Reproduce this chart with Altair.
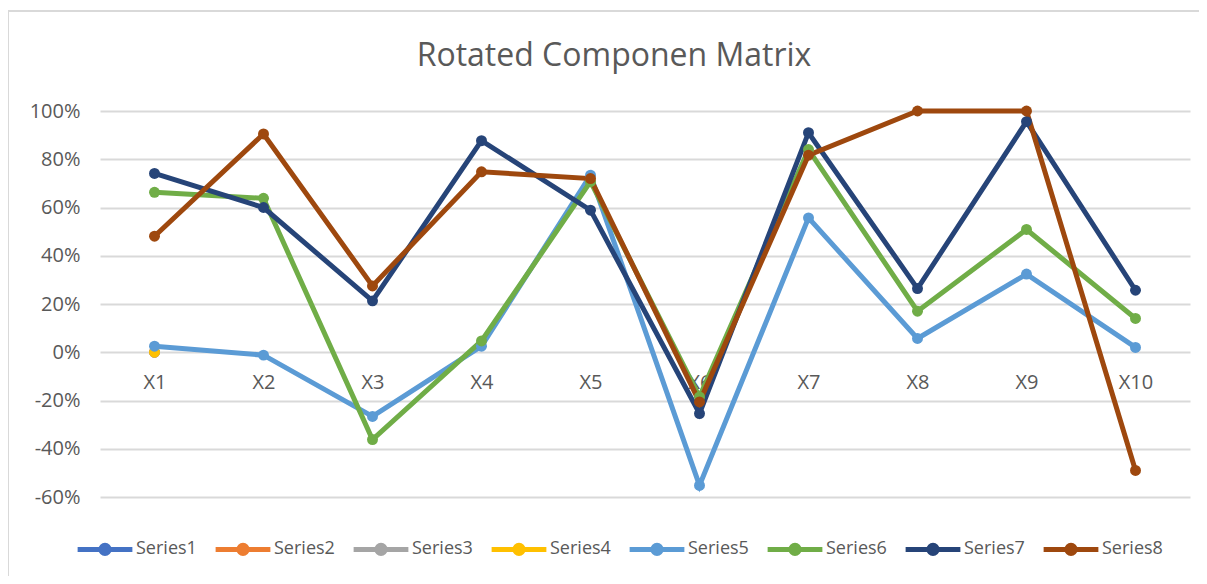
import altair as alt
import pandas as pd

categories = ["X1", "X2", "X3", "X4", "X5", "X6", "X7", "X8", "X9", "X10"]
series_names = ["Series1", "Series2", "Series3", "Series4",
                "Series5", "Series6", "Series7", "Series8"]
colors = ["#4472C4", "#ED7D31", "#A5A5A5", "#FFC000",
          "#5B9BD5", "#70AD47", "#264478", "#9E480E"]

# Series1-4 only have a value at X1
series1 = [0.0]
series2 = [0.0]
series3 = [0.0]
series4 = [0.0]
series5 = [0.025, -0.012, -0.266, 0.025, 0.734, -0.552, 0.557, 0.057, 0.324, 0.020]
series6 = [0.663, 0.638, -0.362, 0.047, 0.707, -0.185, 0.840, 0.170, 0.509, 0.140]
series7 = [0.741, 0.600, 0.213, 0.877, 0.589, -0.254, 0.910, 0.264, 0.956, 0.257]
series8 = [0.481, 0.905, 0.275, 0.748, 0.720, -0.206, 0.817, 1.000, 1.000, -0.490]

y_ticks = [-0.6, -0.4, -0.2, 0.0, 0.2, 0.4, 0.6, 0.8, 1.0]
title_text = "Rotated Componen Matrix"

all_series = [series1, series2, series3, series4, series5, series6, series7, series8]
rows = []
for name, vals in zip(series_names, all_series):
    for i, v in enumerate(vals):
        rows.append({"cat": categories[i], "series": name, "value": v, "ord": i})
df = pd.DataFrame(rows)

FONT = "Open Sans"
GREY = "#595959"

legend_path = ("M-1,0H1M0.15,0A0.15,0.15 0 1,1 -0.15,0"
               "A0.15,0.15 0 1,1 0.15,0Z")

color_enc = alt.Color(
    "series:N",
    scale=alt.Scale(domain=series_names, range=colors),
    legend=alt.Legend(
        title=None, orient="none", direction="horizontal", columns=8,
        legendX=-25, legendY=408,
        symbolType=legend_path, symbolSize=3000, symbolStrokeWidth=5,
        labelFont=FONT, labelFontSize=18, labelColor=GREY, labelOffset=1,
        columnPadding=8,
    ),
)

x_enc = alt.X(
    "cat:N", sort=categories, title=None,
    scale=alt.Scale(type="point", padding=0.5),
    axis=alt.Axis(orient="bottom", offset=-145, domain=False, ticks=False,
                  labelAngle=0, labelFont=FONT, labelFontSize=20,
                  labelColor=GREY, labelPadding=20, grid=False),
)
y_enc = alt.Y(
    "value:Q", title=None,
    scale=alt.Scale(domain=[-0.6, 1.0], nice=False, zero=False),
    axis=alt.Axis(values=y_ticks, domain=False, ticks=False,
                  labelExpr="(datum.value < 0 ? '-' : '') + format(abs(datum.value), '.0%')",
                  labelFont=FONT, labelFontSize=20, labelColor=GREY,
                  labelPadding=20, grid=True, gridColor="#D9D9D9",
                  gridWidth=2),
)

lines = alt.Chart(df).mark_line(strokeWidth=5).encode(
    x=x_enc, y=y_enc, color=color_enc, order="ord:Q"
)
points = alt.Chart(df).mark_point(filled=True, size=120, opacity=1).encode(
    x=alt.X("cat:N", sort=categories),
    y="value:Q",
    color=alt.Color("series:N"),
)

one = alt.Data(values=[{}])
border_top = alt.Chart(one).mark_rule(stroke="#D9D9D9", strokeWidth=2).encode(
    x=alt.value(-93), x2=alt.value(1110), y=alt.value(-100)
)
border_left = alt.Chart(one).mark_rule(stroke="#D9D9D9", strokeWidth=2).encode(
    x=alt.value(-92), y=alt.value(-101), y2=alt.value(480)
)

title = alt.Chart(alt.Data(values=[{"t": title_text}])).mark_text(
    font=FONT, fontSize=32, color=GREY, align="center", baseline="middle"
).encode(
    text="t:N", x=alt.value(514), y=alt.value(-55)
)

chart = alt.layer(border_top, border_left, lines, points, title).properties(
    width=1090, height=386,
    autosize=alt.AutoSizeParams(type="none"),
    padding={"left": 92, "top": 103, "right": 9, "bottom": 79},
).configure_view(stroke=None)

chart.save("out.html", embed_options={"renderer": "svg", "actions": False})
